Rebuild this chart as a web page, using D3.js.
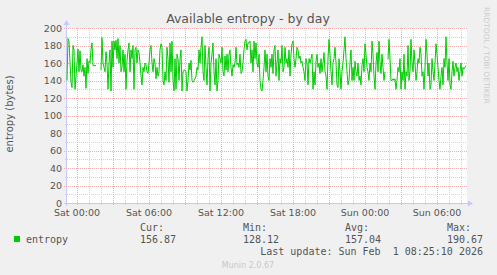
<!doctype html>
<html>
	<head>
		<meta charset="utf-8">
		<script src="https://d3js.org/d3.v7.min.js"></script>
		<style>
			body { margin: 0; background: #f0f0f0; }
			text { font-family: "DejaVu Sans", sans-serif; fill: #555; }
			.mono { font-family: "DejaVu Sans Mono", monospace; }
		</style>
	</head>
	<body>
		<div id="chart"></div>
		<script>
            // 5 minute samples (null = no data)
            const entropy = [
                140, 188, 185, 160, 138, 132, 180, 175, 130, 145,
                160, 176, 150, 174, 152, 150, 158, 145, 155, 131,
                165, 148, 162, 160, 175, 183, 157, 157, 157, 157,
                null, null, null, null, 152, 189, 160, 155, 150, 173,
                160, 130, 160, 175, 128, 185, 155, 185, 175, 186,
                165, 188, 160, 180, 150, 155, 175, 150, 170, 130,
                162, 175, 183, 150, 175, 165, 180, 130, 175, 178,
                160, 175, 172, 160, 145, 135, 155, 150, 160, 158,
                150, 148, 160, 175, 180, 160, 150, 165, 160, 142,
                155, 145, 150, 175, 182, 178, 140, 135, 150, 140,
                178, 165, 138, 183, 150, 185, 140, 128, 165, 130,
                170, 165, 140, 165, 175, 128, 150, 152, 152, 150,
                128, 140, 160, 152, 163, 140, 138, 140, 142, 145,
                155, 152, 175, 160, 178, 190, 150, 140, 180, 155,
                135, 165, 178, 128, 160, 170, 183, 150, 135, 165,
                128, 140, 170, 165, 160, 178, 150, 145, 168, 152,
                170, 150, 170, 175, 155, 145, 158, 155, 160, 178,
                158, 160, 155, 170, 148, 150, 160, 175, 185, 187,
                175, 183, 183,
                185, 160, 175, 150, 185, 165, 183, 160, 155, 170,
                140, 130, 128, 140, 155, 175, 150, 170, 145, 140,
                165, 155, 170, 148, 175, 180, 145, 160, 175, 140,
                165, 160, 180, 150, 155, 178, 160, 165, 155, 175,
                145, 170, 182, 185, 165, 155, 165, 178, 175, 165,
                168, 160, 162, 155, 150, 140, 165, 160, 135, 165,
                160, 165, 170, 130, 150, 135, 162, 170, 155, 160,
                148, 165, 150, 160, 172, 150, 145, 130, 165, 187,
                170, 150, 135, 160, 165, 178, 160, 135, 132, 165,
                150, 130, 150, 160, 175, 190, 165, 150, 135, 140,
                160, 175, 140, 155, 140, 162, 150, 145, 160, 140,
                145, 135, 158, 165, 150, 182, 170, 155, 150, 140,
                160, 150, 185, 170, 145, 130, 160, 172, 150, 185,
                160, 148, 170, 155, 140, 150, null, null, 164, 187,
                165, 140, 140, 142, 140, 142, 130, 140, 155, 150,
                165, 130, 150, 140, 170, 130, 150, 145, 180, 140,
                150, 187, 160, 150, 175, 160, 140, 150, 165, 160,
                178, 170, 145, 150, 130, 155, 187, 170, 145, 160,
                130, 135, 165, 150, 140, 160, 182, 170, 155, 140,
                130, 145, 155, 135, 165, 155, 190, 160, 140, 165,
                135, 130, 150, 162, 145, 155, 160, 150, 155, 140,
                150, 160, 145, 155, 153, 155, 156.87
            ];
            const yTicks = [0, 20, 40, 60, 80, 100, 120, 140, 160, 180, 200];
            const legendHeads = ["Cur:", "Min:", "Avg:", "Max:"];
            const legendVals = ["156.87", "128.12", "157.04", "190.67"];

            const width = 497, height = 275;
            const pLeft = 67, pRight = 467, pTop = 28, pBottom = 203;

            const lastSample = new Date(2026, 1, 1, 8, 25);
            const start = new Date(2026, 0, 30, 23, 10), end = new Date(2026, 1, 1, 8, 30);
            const data = entropy.map(function (v, i) {
                return {t: new Date(lastSample.getTime() - (entropy.length - 1 - i) * 300000), v: v};
            });

            const x = d3.scaleTime().domain([start, end]).range([pLeft, pRight]);
            const y = d3.scaleLinear().domain([0, 200]).range([pBottom, pTop]);

            const svg = d3.select("#chart").append("svg")
                .attr("width", width).attr("height", height);

            svg.append("rect").attr("width", width).attr("height", height).attr("fill", "#f0f0f0");
            svg.append("rect").attr("x", pLeft).attr("y", pTop)
                .attr("width", pRight - pLeft).attr("height", pBottom - pTop).attr("fill", "#fff");

            // grid
            const hours = d3.timeHour.range(start, end);
            const minorX = hours.filter(function (d) { return d.getHours() % 3 != 0; });
            const majorX = hours.filter(function (d) { return d.getHours() % 3 == 0; });
            const minorY = d3.range(10, 200, 20);

            svg.selectAll("line.gx").data(minorX).enter().append("line")
                .attr("x1", function (d) { return Math.round(x(d)) + 0.5; })
                .attr("x2", function (d) { return Math.round(x(d)) + 0.5; })
                .attr("y1", pTop).attr("y2", pBottom + 2)
                .attr("stroke", "#d4d4d4").attr("stroke-dasharray", "1,1");
            svg.selectAll("line.gy").data(minorY).enter().append("line")
                .attr("x1", pLeft - 2).attr("x2", pRight)
                .attr("y1", function (d) { return Math.round(y(d)) + 0.5; })
                .attr("y2", function (d) { return Math.round(y(d)) + 0.5; })
                .attr("stroke", "#d4d4d4").attr("stroke-dasharray", "1,1");
            svg.selectAll("line.mx").data(majorX).enter().append("line")
                .attr("x1", function (d) { return Math.round(x(d)) + 0.5; })
                .attr("x2", function (d) { return Math.round(x(d)) + 0.5; })
                .attr("y1", pTop).attr("y2", pBottom + 3)
                .attr("stroke", "#f2acac").attr("stroke-dasharray", "1,1");
            svg.selectAll("line.my").data(yTicks).enter().append("line")
                .attr("x1", pLeft - 3).attr("x2", pRight)
                .attr("y1", function (d) { return Math.round(y(d)) + 0.5; })
                .attr("y2", function (d) { return Math.round(y(d)) + 0.5; })
                .attr("stroke", "#f2acac").attr("stroke-dasharray", "1,1");

            // axes with arrows
            svg.append("line").attr("x1", pLeft - 0.5).attr("x2", pLeft - 0.5)
                .attr("y1", pBottom + 3).attr("y2", pTop - 5).attr("stroke", "#c8c8f8");
            svg.append("line").attr("x1", pLeft - 3).attr("x2", pRight + 3)
                .attr("y1", pBottom + 0.5).attr("y2", pBottom + 0.5).attr("stroke", "#c8c8f8");
            svg.append("path").attr("d", d3.line()([[pLeft - 3.5, pTop - 3], [pLeft + 2.5, pTop - 3], [pLeft - 0.5, pTop - 8]]))
                .attr("fill", "#c8c8f8");
            svg.append("path").attr("d", d3.line()([[pRight + 1, pBottom - 2.5], [pRight + 1, pBottom + 3.5], [pRight + 6, pBottom + 0.5]]))
                .attr("fill", "#c8c8f8");

            // tick labels
            svg.selectAll("text.yl").data(yTicks).enter().append("text")
                .attr("x", pLeft - 5).attr("y", function (d) { return y(d) + 3.5; })
                .attr("text-anchor", "end").attr("font-size", "9.5px")
                .text(String);
            svg.selectAll("text.xl").data(x.ticks(d3.timeHour.every(6))).enter().append("text")
                .attr("x", x).attr("y", pBottom + 13)
                .attr("text-anchor", "middle").attr("font-size", "9.5px")
                .text(d3.timeFormat("%a %H:%M"));

            // the series
            svg.append("path").datum(data)
                .attr("d", d3.line()
                    .defined(function (d) { return d.v != null; })
                    .x(function (d) { return x(d.t); })
                    .y(function (d) { return y(d.v); }))
                .attr("fill", "none").attr("stroke", "#00cc00").attr("stroke-width", 1);

            // titles
            svg.append("text").attr("x", 248).attr("y", 23)
                .attr("text-anchor", "middle").attr("font-size", "12.5px")
                .text("Available entropy - by day");
            svg.append("text").attr("transform", "translate(13,114) rotate(-90)")
                .attr("text-anchor", "middle").attr("font-size", "10px")
                .text("entropy (bytes)");
            svg.append("text").attr("transform", "translate(484,7) rotate(90)")
                .attr("font-size", "7.5px").style("fill", "#cccccc")
                .text("RRDTOOL / TOBI OETIKER");

            // legend
            const cols = [140, 243, 345, 447];
            svg.selectAll("text.lh").data(legendHeads).enter().append("text")
                .attr("class", "mono").attr("font-size", "10px")
                .attr("x", function (d, i) { return cols[i]; }).attr("y", 231)
                .text(String);
            svg.selectAll("text.lv").data(legendVals).enter().append("text")
                .attr("class", "mono").attr("font-size", "10px")
                .attr("x", function (d, i) { return cols[i]; }).attr("y", 243)
                .text(String);
            svg.append("rect").attr("x", 14).attr("y", 236).attr("width", 6).attr("height", 6)
                .attr("fill", "#00cc00");
            svg.append("text").attr("class", "mono").attr("font-size", "10px")
                .attr("x", 26).attr("y", 243).text("entropy");
            svg.append("text").attr("class", "mono").attr("font-size", "10px")
                .attr("x", 483).attr("y", 255).attr("text-anchor", "end").style("white-space", "pre")
                .text("Last update: Sun Feb  1 08:25:10 2026");
            svg.append("text").attr("x", 248).attr("y", 268)
                .attr("text-anchor", "middle").attr("font-size", "8px").style("fill", "#c8c8c8")
                .text("Munin 2.0.67");
		</script>
	</body>
</html>
